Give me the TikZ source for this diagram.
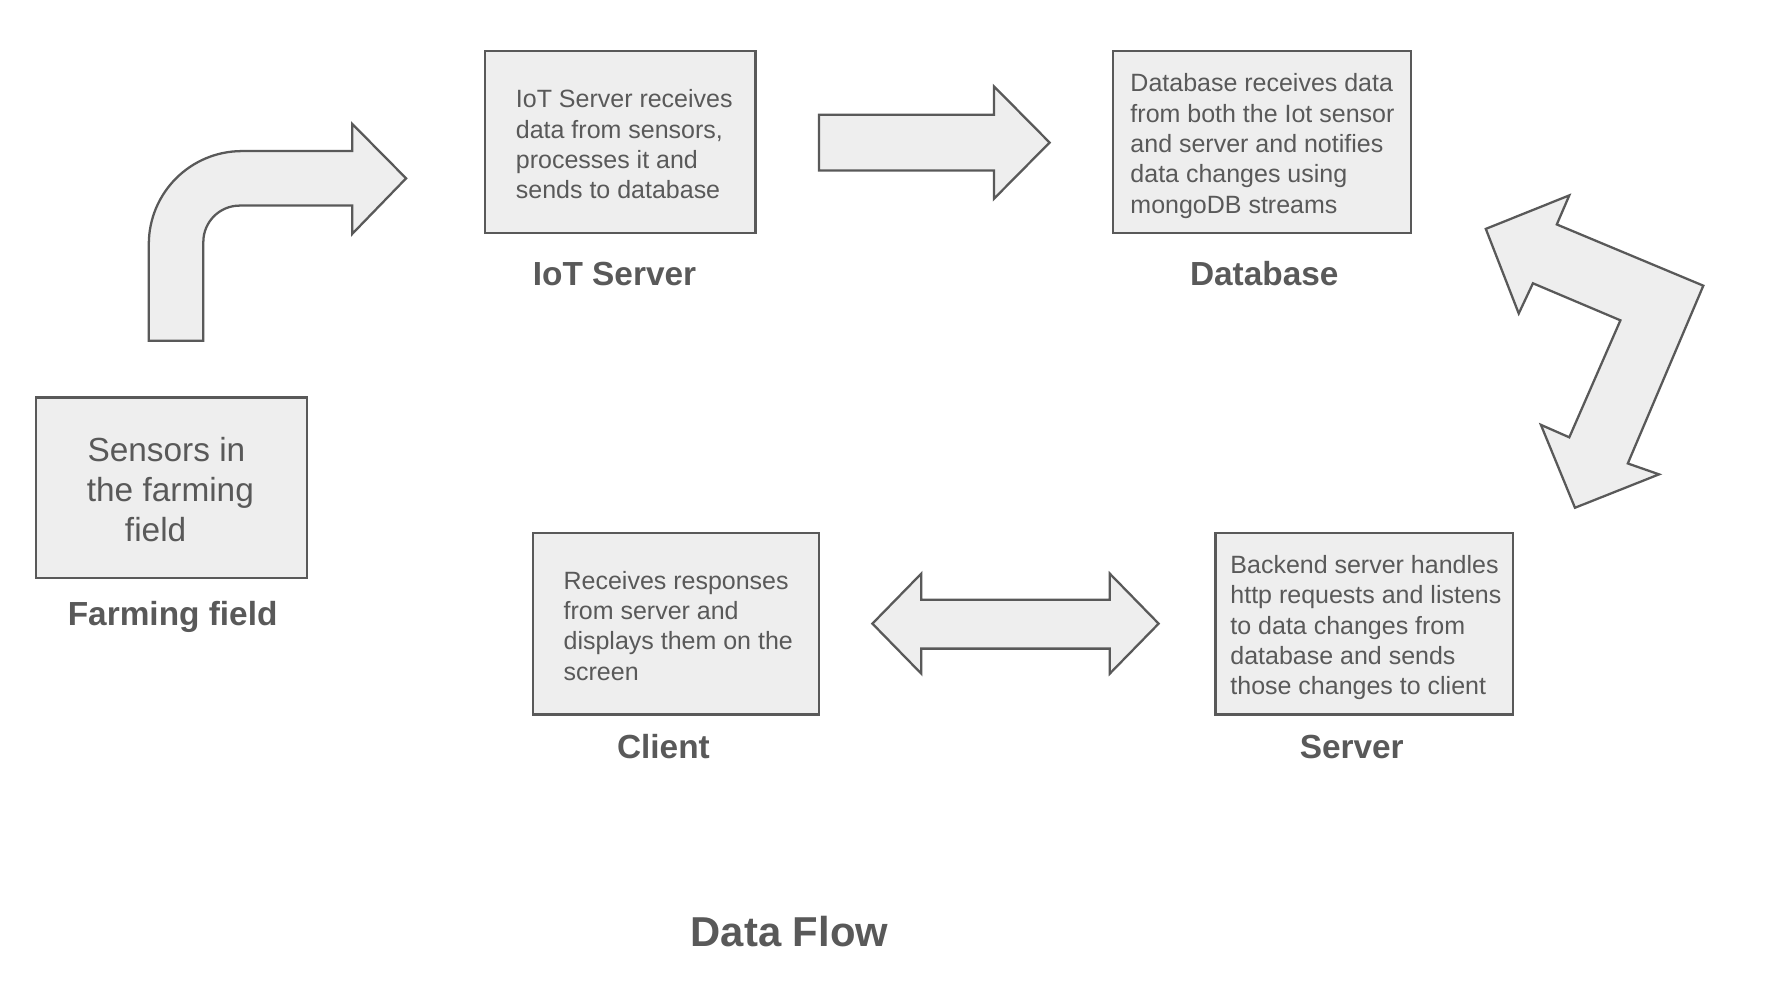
\documentclass[tikz,border=0pt]{standalone}
\usepackage{fontspec}
\setmainfont{Liberation Sans}
\definecolor{lc}{HTML}{595959}
\definecolor{fc}{HTML}{EEEEEE}
\definecolor{tc}{HTML}{595959}
\tikzset{
  box/.style={draw=lc, fill=fc, line width=2pt, rectangle, inner sep=0pt},
  body/.style={text=tc, align=left, inner sep=0pt, anchor=west, font=\fontsize{22}{26.7}\selectfont},
  big/.style={text=tc, align=center, inner sep=0pt, font=\fontsize{29.4}{35.5}\selectfont},
  lbl/.style={text=tc, inner sep=0pt, anchor=base, font=\bfseries\fontsize{29.4}{35}\selectfont},
  ttl/.style={text=tc, inner sep=0pt, anchor=base, font=\bfseries\fontsize{36.8}{44}\selectfont},
  blk/.style={draw=lc, fill=fc, line width=2pt, line join=miter}
}
\begin{document}
\begin{tikzpicture}[x=1pt,y=-1pt]
\useasboundingbox (0,0) rectangle (1567,866.25);
% boxes
\node[box, minimum width=238, minimum height=159] (farm) at (151,429.5) {};
\node[big] (farmt) at (150,431) {Sensors in\kern7pt\\the farming\\field\kern26pt};
\node[lbl] (farml) at (152,550.5) {Farming field};

\node[box, minimum width=238, minimum height=160] (iot) at (546,125) {};
\node[body] (iott) at (454,127) {IoT Server receives\\data from sensors,\\processes it and\\sends to database};
\node[lbl] (iotl) at (541,251.5) {IoT Server};

\node[box, minimum width=262, minimum height=160] (db) at (1111,125) {};
\node[body] (dbt) at (995,128.5) {Database receives data\\from both the Iot sensor\\and server and notifies\\data changes using\\mongoDB streams};
\node[lbl] (dbl) at (1113,251.5) {Database};

\node[box, minimum width=252, minimum height=160] (cl) at (595,549) {};
\node[body] (clt) at (496,551) {Receives responses\\from server and\\displays them on the\\screen};
\node[lbl] (cll) at (584,667.5) {Client};

\node[box, minimum width=262, minimum height=160] (sv) at (1201,549) {};
\node[body] (svt) at (1083,552.5) {Backend server handles\\http requests and listens\\to data changes from\\database and sends\\those changes to client};
\node[lbl] (svl) at (1190,667.5) {Server};

\node[ttl] (title) at (695,833) {Data Flow};

% block arrows
\draw[blk] (131,300) -- (131,215) .. controls (131,169.7) and (167.7,133) .. (213,133)
  -- (310,133) -- (310,109) -- (357.5,157) -- (310,206) -- (310,181) -- (211,181)
  .. controls (193.3,181) and (179,195.3) .. (179,213) -- (179,300) -- cycle;

\draw[blk] (721,101) -- (875,101) -- (875,76) -- (924,125.5) -- (875,175) -- (875,150) -- (721,150) -- cycle;

\draw[blk] (768,549) -- (811,505) -- (811,528) -- (977,528) -- (977,505) -- (1020,549)
  -- (977,593) -- (977,571) -- (811,571) -- (811,593) -- cycle;

\draw[blk] (1308,201.5) -- (1381.5,172) -- (1370.5,197.6) -- (1499.5,251.5) -- (1433,408)
  -- (1460.5,417.6) -- (1386.5,447) -- (1356.5,374) -- (1381.5,385) -- (1426.5,282)
  -- (1349.5,249.4) -- (1337,276) -- cycle;
\end{tikzpicture}
\end{document}
